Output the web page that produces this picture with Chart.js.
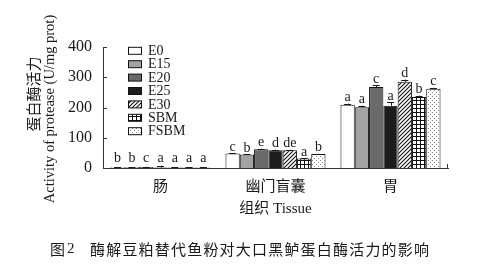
<!DOCTYPE html>
<html><head><meta charset="utf-8">
<script src="https://cdn.jsdelivr.net/npm/chart.js@4"></script>
<style>html,body{margin:0;padding:0;background:#fff}#c{display:block}</style>
</head><body><canvas id="c" width="488" height="269"></canvas>
<script>
// ---- data ----
const categories = ['肠', '幽门盲囊', '胃'];
const seriesNames = ['E0', 'E15', 'E20', 'E25', 'E30', 'SBM', 'FSBM'];
const valE0   = [2.5, 48, 209];
const valE15  = [2.5, 44.5, 201];
const valE20  = [3.5, 62, 268];
const valE25  = [1.5, 59, 206];
const valE30  = [1.5, 59, 285];
const valSBM  = [1.5, 31, 235];
const valFSBM = [1.5, 46, 262];
const errE0   = [0.5, 1.5, 4];
const errE15  = [0.5, 1.5, 5];
const errE20  = [0.5, 1.5, 5];
const errE25  = [6, 1.5, 12];
const errE30  = [0.5, 1.5, 7];
const errSBM  = [0.5, 1.5, 4];
const errFSBM = [0.5, 1.5, 3];
const letE0   = ['b', 'c', 'a'];
const letE15  = ['b', 'b', 'a'];
const letE20  = ['c', 'e', 'c'];
const letE25  = ['a', 'd', 'a'];
const letE30  = ['a', 'de', 'd'];
const letSBM  = ['a', 'a', 'b'];
const letFSBM = ['a', 'b', 'c'];
const yTicks = [0, 100, 200, 300, 400];
const yTitleCN = '蛋白酶活力';
const yTitleEN = 'Activity of protease (U/mg prot)';
const xTitle = '组织 Tissue';
const captionNo = '图';
const captionNum = '2';
const captionText = '酶解豆粕替代鱼粉对大口黑鲈蛋白酶活力的影响';

const values = [valE0, valE15, valE20, valE25, valE30, valSBM, valFSBM];
const errs = [errE0, errE15, errE20, errE25, errE30, errSBM, errFSBM];
const lets = [letE0, letE15, letE20, letE25, letE30, letSBM, letFSBM];

// ---- patterns ----
function mk(w, h, draw) {
  const c = document.createElement('canvas'); c.width = w; c.height = h;
  const x = c.getContext('2d'); x.fillStyle = '#fff'; x.fillRect(0, 0, w, h); draw(x);
  return x.createPattern(c, 'repeat');
}
const ctx0 = document.getElementById('c').getContext('2d');
const hatch = mk(4, 4, x => {
  x.strokeStyle = '#111'; x.lineWidth = 1.1;
  x.beginPath(); x.moveTo(-1, 5); x.lineTo(5, -1); x.moveTo(-1, 1); x.lineTo(1, -1); x.moveTo(3, 5); x.lineTo(5, 3); x.stroke();
});
const grid = mk(4, 4, x => {
  x.fillStyle = '#111'; x.fillRect(0, 0, 4, 1); x.fillRect(0, 0, 1, 4);
});
const dots = mk(4, 4, x => {
  x.fillStyle = '#888'; x.fillRect(0, 0, 1, 1); x.fillRect(2, 2, 1, 1);
});
const fills = ['#ffffff', '#a3a3a3', '#6a6a6a', '#1c1c1c', hatch, grid, dots];

const SERIF = "'Liberation Serif', 'Noto Sans CJK SC', serif";
const CJK = "'Noto Sans CJK SC', 'Liberation Serif', sans-serif";
const INK = '#1a1a1a';

const extras = {
  id: 'extras',
  afterDatasetsDraw(chart) {
    const c = chart.ctx, ys = chart.scales.y, a = chart.chartArea;
    c.save();
    // error bars + letters
    chart.data.datasets.forEach((ds, i) => {
      const meta = chart.getDatasetMeta(i);
      meta.data.forEach((el, j) => {
        const v = ds.data[j], e = errs[i][j];
        const yt = ys.getPixelForValue(v), ye = ys.getPixelForValue(v + e);
        c.strokeStyle = INK; c.lineWidth = 1;
        c.beginPath(); c.moveTo(Math.round(el.x) + 0.5, yt); c.lineTo(Math.round(el.x) + 0.5, ye);
        c.moveTo(el.x - 3.5, Math.round(ye) + 0.5); c.lineTo(el.x + 3.5, Math.round(ye) + 0.5); c.stroke();
        c.fillStyle = INK; c.font = '14px ' + SERIF; c.textAlign = 'center'; c.textBaseline = 'alphabetic';
        c.fillText(lets[i][j], el.x, Math.min(ye - 2.5, 162));
      });
    });
    // inner y ticks
    c.strokeStyle = '#333'; c.lineWidth = 1;
    c.beginPath();
    yTicks.forEach(t => { if (t === 0) return; const y = Math.round(ys.getPixelForValue(t)) + 0.5; c.moveTo(a.left, y); c.lineTo(a.left + 4, y); });
    c.moveTo(a.right - 0.5, a.bottom); c.lineTo(a.right - 0.5, a.bottom - 4);
    c.stroke();
    // legend
    chart.data.datasets.forEach((ds, i) => {
      const cy = 50.8 + i * 13.4;
      c.fillStyle = ds.backgroundColor; c.fillRect(128, cy - 3.5, 14, 7);
      c.strokeStyle = '#111'; c.lineWidth = 1; c.strokeRect(128.5, cy - 3.5, 13, 7);
      c.fillStyle = INK; c.font = '14px ' + SERIF; c.textAlign = 'left'; c.textBaseline = 'middle';
      c.fillText(ds.label, 148, cy + 0.5);
    });
    // y title
    c.save(); c.translate(33, 94); c.rotate(-Math.PI / 2);
    c.font = '15px ' + CJK; c.textAlign = 'center'; c.textBaseline = 'middle'; c.fillStyle = INK;
    c.fillText(yTitleCN, 0, 0); c.restore();
    c.save(); c.translate(50, 109); c.rotate(-Math.PI / 2);
    c.font = '14.5px ' + SERIF; c.textAlign = 'center'; c.textBaseline = 'middle'; c.fillStyle = INK;
    c.fillText(yTitleEN, 0, 0); c.restore();
    // x title
    c.font = '15px ' + SERIF; c.textAlign = 'center'; c.textBaseline = 'middle'; c.fillStyle = INK;
    c.fillText(xTitle, (a.left + a.right) / 2, 209);
    // caption
    c.font = '15px ' + CJK; c.textAlign = 'left'; c.textBaseline = 'middle';
    c.fillText(captionNo, 50, 249);
    c.font = '15px ' + SERIF; c.fillText(captionNum, 67, 249);
    c.font = '15px ' + CJK;
    [...captionText].forEach((ch, k) => c.fillText(ch, 90 + k * 16.2, 249));
    c.restore();
  }
};

new Chart(document.getElementById('c'), {
  type: 'bar',
  data: {
    labels: categories,
    datasets: seriesNames.map((n, i) => ({
      label: n, data: values[i], backgroundColor: fills[i],
      borderColor: '#111', borderWidth: 1,
      categoryPercentage: 0.87, barPercentage: 1.0
    }))
  },
  options: {
    responsive: false, animation: false, devicePixelRatio: 1,
    layout: { padding: { top: 47, right: 40, left: 0, bottom: 0 } },
    plugins: { legend: { display: false }, tooltip: { enabled: false } },
    scales: {
      x: {
        grid: { display: false, drawTicks: false },
        border: { display: true, color: '#333', width: 1 },
        ticks: { font: { size: 15, family: CJK }, color: INK, padding: 8 },
        afterFit(s) { s.height = 101; }
      },
      y: {
        min: 0, max: 400,
        afterBuildTicks(s) { s.ticks = yTicks.map(v => ({ value: v })); },
        grid: { display: false, drawTicks: false },
        border: { display: true, color: '#333', width: 1 },
        ticks: { font: { size: 16, family: SERIF }, color: INK, padding: 11 },
        afterFit(s) { s.width = 103; }
      }
    }
  },
  plugins: [extras]
});
</script>
</body></html>
